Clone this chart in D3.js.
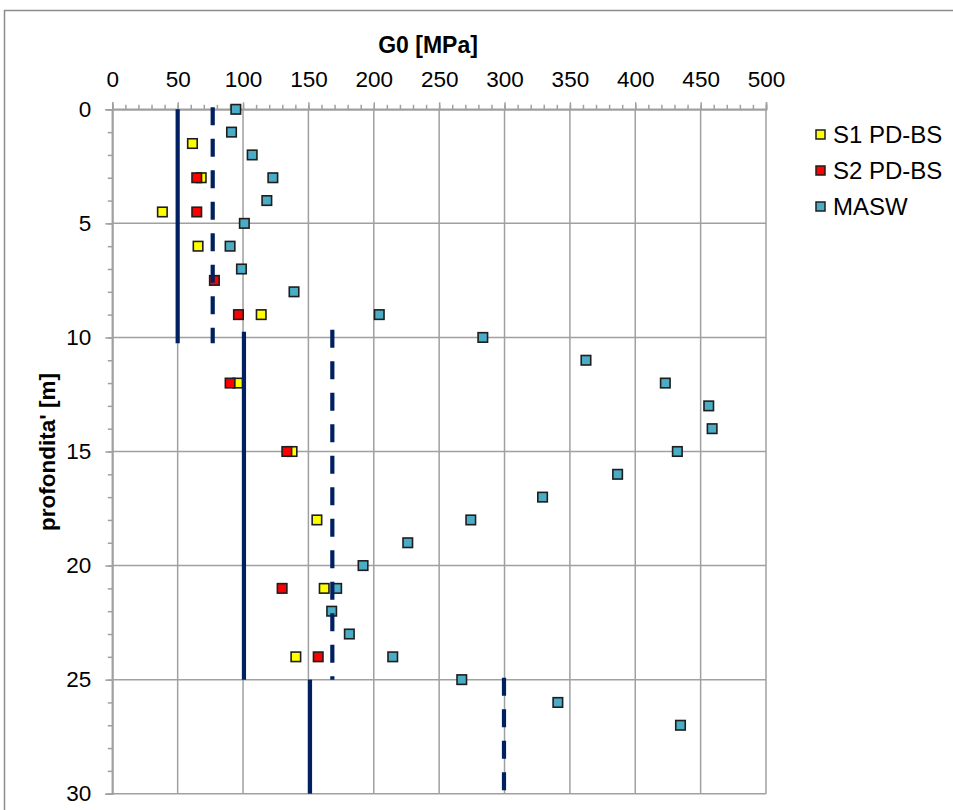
<!DOCTYPE html>
<html>
<head>
<meta charset="utf-8">
<script src="https://cdn.jsdelivr.net/npm/d3@7"></script>
<style>
  html, body { margin: 0; padding: 0; background: #fff; }
  svg { display: block; font-family: "Liberation Sans", Arial, sans-serif; }
</style>
</head>
<body>
<svg id="chart" width="953" height="810"></svg>
<script>
// ---------- data ----------
const xTicks = [0, 50, 100, 150, 200, 250, 300, 350, 400, 450, 500];
const yTicks = [0, 5, 10, 15, 20, 25, 30];

const s1Depth = [1.5, 3, 4.5, 6, 9, 12, 15, 18, 21, 24];
const s1G0    = [61.3, 68, 38.3, 65.6, 113.9, 96, 137.5, 156.5, 162.1, 140.4];

const s2Depth = [3, 4.5, 7.5, 9, 12, 15, 21, 24];
const s2G0    = [64.6, 64.6, 78.1, 96.5, 90.1, 133.5, 129.9, 157.5];

const maswDepth = [0, 1, 2, 3, 4, 5, 6, 7, 8, 9, 10, 11, 12, 13, 14, 15, 16, 17, 18, 19, 20, 21, 22, 23, 24, 25, 26, 27];
const maswG0    = [94.5, 91.2, 107, 122.8, 118.2, 101, 90.1, 98.8, 139, 204.2, 283.4, 362.3, 423, 456.2, 458.8, 432.2, 386.5, 329.1, 274.2, 226, 191.8, 171.6, 167.8, 181.3, 214.5, 267.3, 340.8, 434.6];

// reference lines: [G0, depth from, depth to]
const solidLines  = [[50, 0, 10.25], [100.7, 9.75, 25], [151.2, 25, 30]];
const dashedLines = [[76.8, 0, 10.25], [168.3, 9.75, 25], [299.6, 25, 30]];

const seriesNames  = ["S1 PD-BS", "S2 PD-BS", "MASW"];
const seriesColors = ["#FFFF00", "#FF0000", "#4BACC6"];

// ---------- layout ----------
const svg = d3.select("#chart");
const x = d3.scaleLinear().domain([0, 500]).range([112.3, 766]);
const y = d3.scaleLinear().domain([0, 30]).range([109.3, 793.7]);
const gridColor = "#a0a0a0";
const navy = "#002060";

// outer chart border
svg.append("rect").attr("x", 4.5).attr("y", 10.5).attr("width", 970).attr("height", 830)
  .attr("fill", "none").attr("stroke", "#8c8c8c").attr("stroke-width", 1.5);

// gridlines
const grid = svg.append("g");
grid.selectAll("line.v").data(xTicks).join("line")
  .attr("x1", d => x(d)).attr("x2", d => x(d))
  .attr("y1", y(0)).attr("y2", y(30))
  .attr("stroke", gridColor).attr("stroke-width", 1.5);
grid.selectAll("line.h").data(yTicks).join("line")
  .attr("x1", x(0)).attr("x2", x(500))
  .attr("y1", d => y(d)).attr("y2", d => y(d))
  .attr("stroke", gridColor).attr("stroke-width", 1.5);

// minor ticks
const minorX = svg.append("g").attr("transform", `translate(0,${y(0)})`)
  .call(d3.axisTop(x).tickValues(d3.range(0, 501, 10)).tickSize(4.5).tickFormat(""));
const minorY = svg.append("g").attr("transform", `translate(${x(0)},0)`)
  .call(d3.axisLeft(y).tickValues(d3.range(0, 31, 1)).tickSize(4.5).tickFormat(""));

// major axes
const xAxis = svg.append("g").attr("transform", `translate(0,${y(0)})`)
  .call(d3.axisTop(x).tickValues(xTicks).tickSize(7).tickPadding(15).tickFormat(d3.format("d")));
const yAxis = svg.append("g").attr("transform", `translate(${x(0)},0)`)
  .call(d3.axisLeft(y).tickValues(yTicks).tickSize(7).tickPadding(14).tickFormat(d3.format("d")));

[minorX, minorY, xAxis, yAxis].forEach(g => {
  g.select(".domain").attr("stroke", gridColor).attr("stroke-width", 1.5);
  g.selectAll(".tick line").attr("stroke", gridColor).attr("stroke-width", 1.5);
});
xAxis.selectAll(".tick text").attr("font-size", 22.5).attr("fill", "#000")
  .attr("font-family", "'Liberation Sans', Arial, sans-serif");
yAxis.selectAll(".tick text").attr("font-size", 22.5).attr("fill", "#000")
  .attr("font-family", "'Liberation Sans', Arial, sans-serif");

// markers
const size = 9.5;
function drawSeries(depths, vals, color) {
  const data = depths.map((d, i) => ({ d, v: vals[i] }));
  svg.append("g").selectAll("rect").data(data).join("rect")
    .attr("x", p => x(p.v) - size / 2).attr("y", p => y(p.d) - size / 2)
    .attr("width", size).attr("height", size)
    .attr("fill", color).attr("stroke", "#1e1e1e").attr("stroke-width", 1.6);
}
drawSeries(s1Depth, s1G0, seriesColors[0]);
drawSeries(s2Depth, s2G0, seriesColors[1]);
drawSeries(maswDepth, maswG0, seriesColors[2]);

// reference lines
svg.append("g").selectAll("line").data(solidLines).join("line")
  .attr("x1", d => x(d[0])).attr("x2", d => x(d[0]))
  .attr("y1", d => y(d[1])).attr("y2", d => y(d[2]))
  .attr("stroke", navy).attr("stroke-width", 4.2);
svg.append("g").selectAll("line").data(dashedLines).join("line")
  .attr("x1", d => x(d[0])).attr("x2", d => x(d[0]))
  .attr("y1", d => y(d[1]) - 2).attr("y2", d => y(d[2]))
  .attr("stroke", navy).attr("stroke-width", 4.2)
  .attr("stroke-dasharray", "18,13.5");

// titles
svg.append("text").attr("x", 428).attr("y", 53).attr("text-anchor", "middle")
  .attr("font-size", 23).attr("font-weight", "bold").attr("fill", "#000").text("G0 [MPa]");
svg.append("text").attr("transform", "translate(55,452) rotate(-90)").attr("text-anchor", "middle")
  .attr("font-size", 22.5).attr("font-weight", "bold").attr("fill", "#000").text("profondita' [m]");

// legend
const legend = svg.append("g");
const legY = [134.5, 170.5, 206.5];
seriesNames.forEach((name, i) => {
  legend.append("rect").attr("x", 816).attr("y", legY[i] - 4.5).attr("width", 9).attr("height", 9)
    .attr("fill", seriesColors[i]).attr("stroke", "#1e1e1e").attr("stroke-width", 1.5);
  legend.append("text").attr("x", 833).attr("y", legY[i] + 8.5).attr("font-size", 24)
    .attr("fill", "#000").text(name);
});
</script>
</body>
</html>
